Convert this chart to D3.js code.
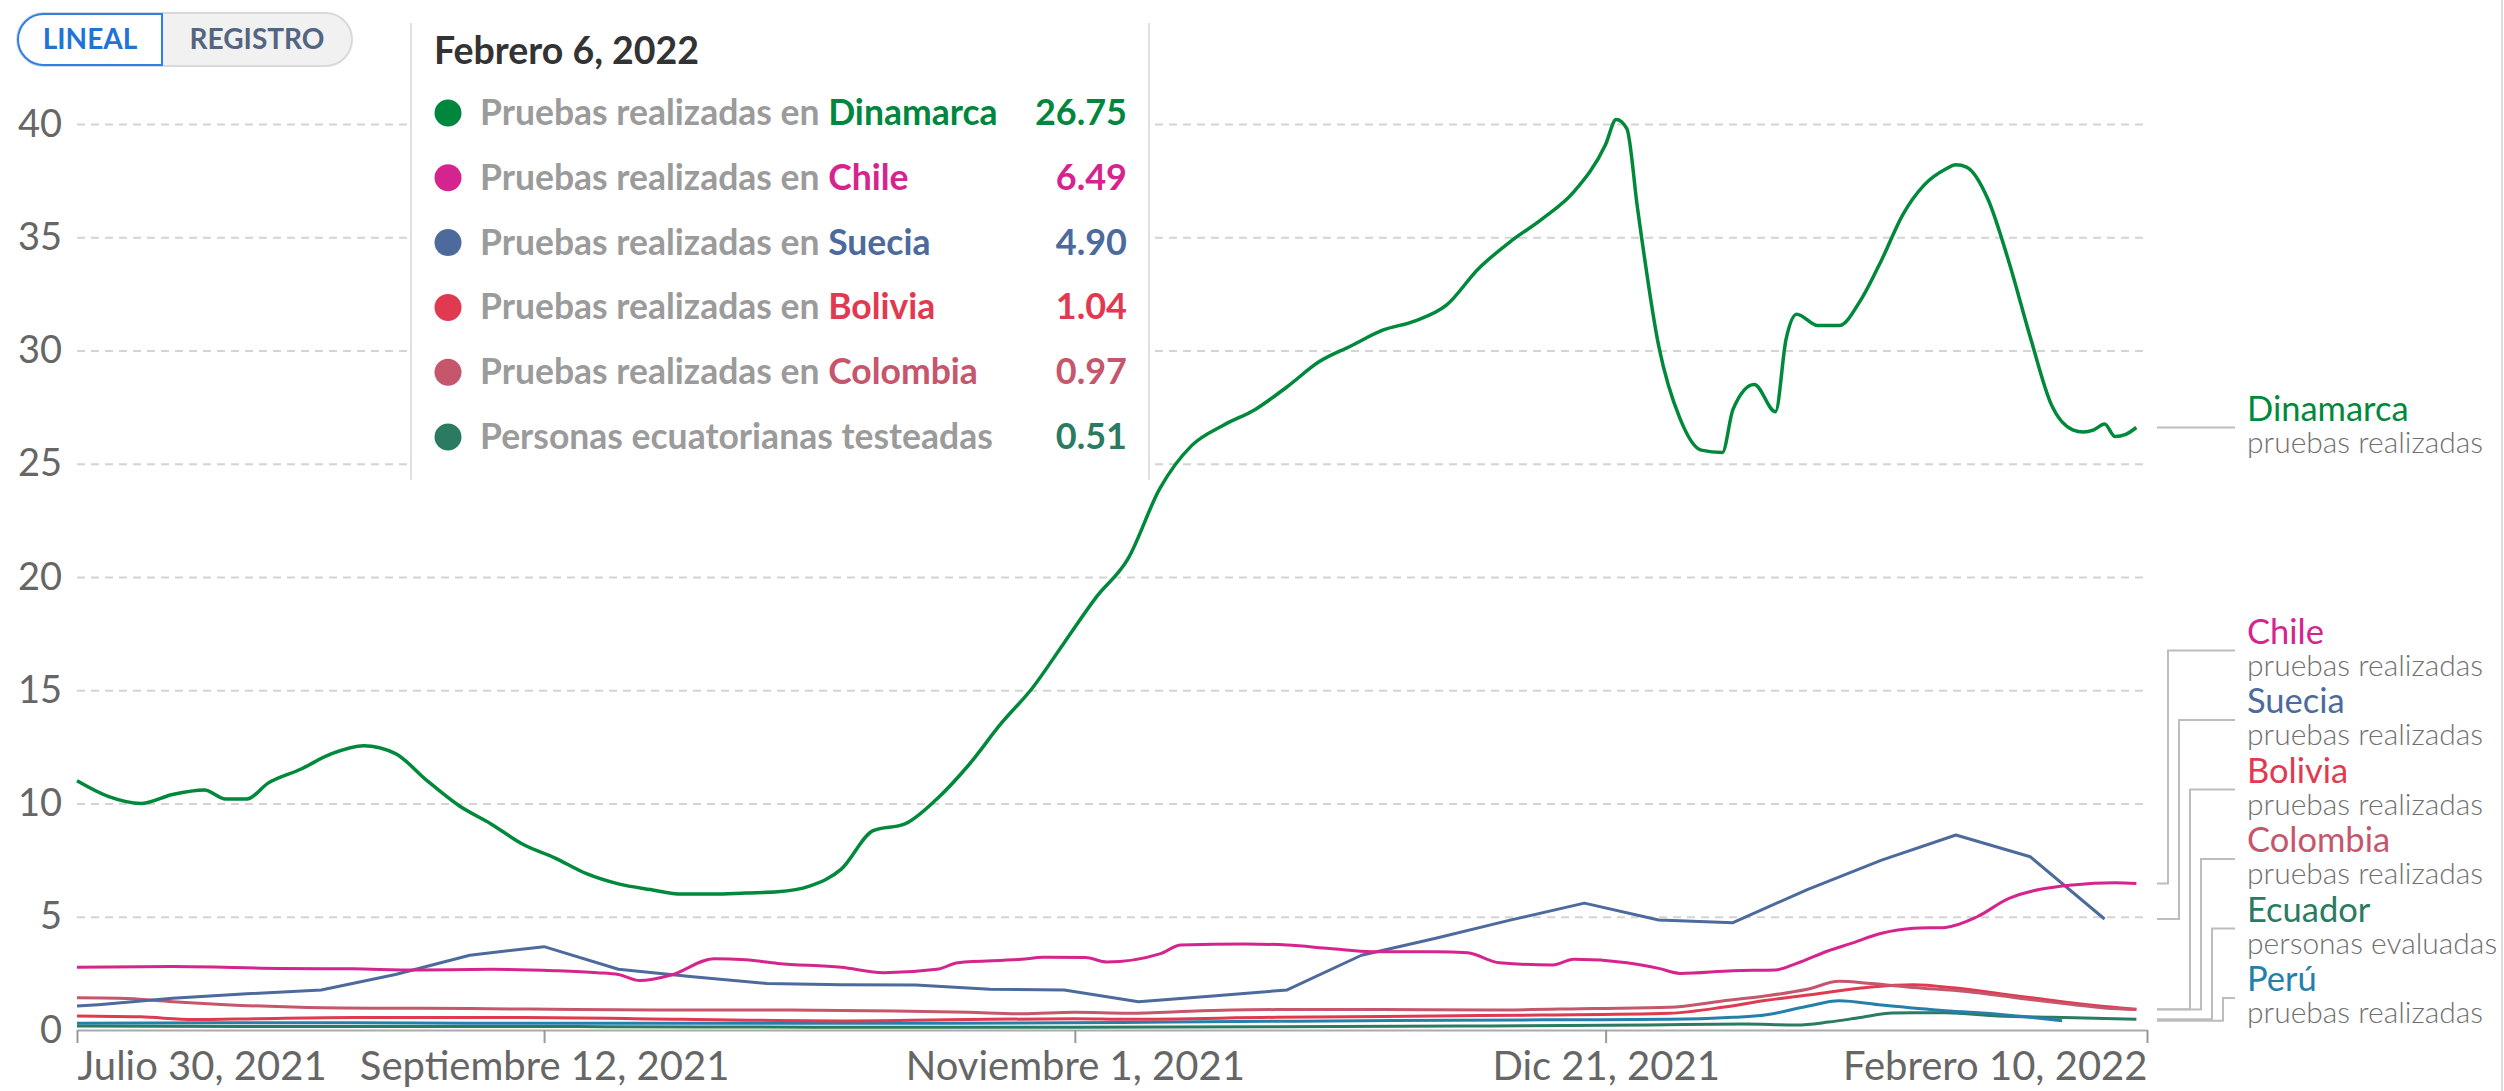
<!DOCTYPE html>
<html>
<head>
<meta charset="utf-8">
<script src="https://cdnjs.cloudflare.com/ajax/libs/d3/7.8.5/d3.min.js"></script>
<style>
  body { margin: 0; background: #fff; }
  svg { display: block; font-family: Lato, "Open Sans", sans-serif; }
</style>
</head>
<body>
<div id="container"></div>
<script>
let w = 2504;
let h = 1091;

// data (tests per 1000 people, 7-day average)
let dinamarca = [
  ["2021-07-30", 11.0], ["2021-08-02", 10.3], ["2021-08-05", 10.0], ["2021-08-08", 10.4],
  ["2021-08-11", 10.6], ["2021-08-13", 10.2], ["2021-08-15", 10.2], ["2021-08-17", 10.9],
  ["2021-08-20", 11.5], ["2021-08-23", 12.2], ["2021-08-26", 12.55], ["2021-08-29", 12.2],
  ["2021-09-01", 11.0], ["2021-09-04", 9.9], ["2021-09-07", 9.1], ["2021-09-10", 8.2],
  ["2021-09-13", 7.6], ["2021-09-16", 6.9], ["2021-09-19", 6.45], ["2021-09-22", 6.2],
  ["2021-09-25", 6.0], ["2021-09-28", 6.0], ["2021-10-01", 6.05], ["2021-10-04", 6.1],
  ["2021-10-07", 6.35], ["2021-10-10", 7.1], ["2021-10-13", 8.8], ["2021-10-16", 9.1],
  ["2021-10-19", 10.2], ["2021-10-22", 11.7], ["2021-10-25", 13.5], ["2021-10-28", 15.1],
  ["2021-10-31", 17.1], ["2021-11-03", 19.1], ["2021-11-06", 20.8], ["2021-11-09", 23.9],
  ["2021-11-12", 25.8], ["2021-11-15", 26.7], ["2021-11-18", 27.4], ["2021-11-21", 28.4],
  ["2021-11-24", 29.5], ["2021-11-27", 30.2], ["2021-11-30", 30.9], ["2021-12-03", 31.3],
  ["2021-12-06", 32.0], ["2021-12-09", 33.6], ["2021-12-12", 34.8], ["2021-12-15", 35.8],
  ["2021-12-18", 37.0], ["2021-12-21", 39.1], ["2021-12-22", 40.2], ["2021-12-23", 39.8],
  ["2021-12-24", 36.3], ["2021-12-26", 30.2], ["2021-12-28", 27.0], ["2021-12-30", 25.6],
  ["2022-01-01", 25.5], ["2022-01-02", 27.4], ["2022-01-04", 28.5], ["2022-01-06", 27.3],
  ["2022-01-07", 30.5], ["2022-01-08", 31.6], ["2022-01-10", 31.1], ["2022-01-12", 31.1],
  ["2022-01-14", 32.2], ["2022-01-16", 34.0], ["2022-01-18", 36.0], ["2022-01-20", 37.3],
  ["2022-01-22", 38.0], ["2022-01-23", 38.2], ["2022-01-24", 38.1], ["2022-01-26", 36.7],
  ["2022-01-28", 33.9], ["2022-01-30", 30.6], ["2022-02-01", 27.6], ["2022-02-03", 26.5],
  ["2022-02-04", 26.4], ["2022-02-05", 26.5], ["2022-02-06", 26.75], ["2022-02-07", 26.2],
  ["2022-02-08", 26.3], ["2022-02-09", 26.6]
];

let chile = [
  ["2021-07-30", 2.77], ["2021-08-08", 2.8], ["2021-08-18", 2.72], ["2021-08-25", 2.7],
  ["2021-08-31", 2.65], ["2021-09-07", 2.68], ["2021-09-13", 2.62], ["2021-09-17", 2.53],
  ["2021-09-19", 2.45], ["2021-09-21", 2.18], ["2021-09-24", 2.43], ["2021-09-28", 3.15],
  ["2021-10-01", 3.1], ["2021-10-04", 2.94], ["2021-10-10", 2.77], ["2021-10-14", 2.53],
  ["2021-10-19", 2.68], ["2021-10-21", 2.97], ["2021-10-27", 3.12], ["2021-10-29", 3.21],
  ["2021-11-02", 3.2], ["2021-11-04", 3.0], ["2021-11-09", 3.36], ["2021-11-11", 3.75],
  ["2021-11-17", 3.8], ["2021-11-21", 3.75], ["2021-11-25", 3.6], ["2021-11-29", 3.46],
  ["2021-12-05", 3.46], ["2021-12-08", 3.41], ["2021-12-11", 2.97], ["2021-12-16", 2.87],
  ["2021-12-18", 3.12], ["2021-12-23", 2.97], ["2021-12-26", 2.72], ["2021-12-28", 2.5],
  ["2022-01-02", 2.62], ["2022-01-06", 2.65], ["2022-01-08", 2.94], ["2022-01-11", 3.5],
  ["2022-01-13", 3.8], ["2022-01-16", 4.27], ["2022-01-19", 4.49], ["2022-01-22", 4.53],
  ["2022-01-25", 5.0], ["2022-01-28", 5.81], ["2022-02-03", 6.4], ["2022-02-07", 6.5],
  ["2022-02-09", 6.47]
];

// weekly values, drawn with straight segments
let suecia = [
  ["2021-07-30", 1.06], ["2021-08-01", 1.12], ["2021-08-08", 1.4], ["2021-08-15", 1.6],
  ["2021-08-22", 1.77], ["2021-08-29", 2.45], ["2021-09-05", 3.3], ["2021-09-12", 3.68],
  ["2021-09-19", 2.68], ["2021-09-26", 2.35], ["2021-10-03", 2.05], ["2021-10-10", 2.0],
  ["2021-10-17", 1.99], ["2021-10-24", 1.8], ["2021-10-31", 1.77], ["2021-11-07", 1.25],
  ["2021-11-14", 1.5], ["2021-11-21", 1.77], ["2021-11-28", 3.3], ["2021-12-05", 4.05],
  ["2021-12-12", 4.85], ["2021-12-19", 5.6], ["2021-12-26", 4.86], ["2022-01-02", 4.74],
  ["2022-01-09", 6.2], ["2022-01-16", 7.5], ["2022-01-23", 8.61], ["2022-01-30", 7.65],
  ["2022-02-06", 4.9]
];

let bolivia = [
  ["2021-07-30", 0.62], ["2021-08-05", 0.58], ["2021-08-10", 0.46], ["2021-08-16", 0.5],
  ["2021-08-25", 0.55], ["2021-09-10", 0.55], ["2021-09-25", 0.47], ["2021-10-10", 0.4],
  ["2021-10-20", 0.45], ["2021-11-01", 0.5], ["2021-11-06", 0.47], ["2021-11-20", 0.56],
  ["2021-12-05", 0.62], ["2021-12-15", 0.66], ["2021-12-27", 0.74], ["2022-01-01", 1.0],
  ["2022-01-05", 1.3], ["2022-01-10", 1.6], ["2022-01-15", 1.9], ["2022-01-19", 2.0],
  ["2022-01-23", 1.85], ["2022-01-28", 1.55], ["2022-02-02", 1.25], ["2022-02-06", 1.04],
  ["2022-02-09", 0.92]
];

let colombia = [
  ["2021-07-30", 1.42], ["2021-08-03", 1.4], ["2021-08-08", 1.25], ["2021-08-13", 1.12],
  ["2021-08-20", 1.0], ["2021-08-27", 0.96], ["2021-09-05", 0.95], ["2021-09-15", 0.9],
  ["2021-09-25", 0.88], ["2021-10-05", 0.88], ["2021-10-15", 0.84], ["2021-10-22", 0.78],
  ["2021-10-27", 0.72], ["2021-11-01", 0.78], ["2021-11-06", 0.74], ["2021-11-13", 0.85],
  ["2021-11-20", 0.9], ["2021-11-30", 0.9], ["2021-12-10", 0.88], ["2021-12-20", 0.95],
  ["2021-12-27", 1.0], ["2022-01-01", 1.28], ["2022-01-05", 1.5], ["2022-01-09", 1.8],
  ["2022-01-12", 2.15], ["2022-01-15", 2.05], ["2022-01-19", 1.88], ["2022-01-24", 1.7],
  ["2022-01-29", 1.4], ["2022-02-03", 1.12], ["2022-02-06", 0.97], ["2022-02-09", 0.9]
];

let ecuador = [
  ["2021-07-30", 0.18], ["2021-08-20", 0.15], ["2021-09-15", 0.15], ["2021-10-10", 0.12],
  ["2021-11-01", 0.12], ["2021-11-20", 0.14], ["2021-12-10", 0.18], ["2021-12-25", 0.22],
  ["2022-01-03", 0.26], ["2022-01-08", 0.22], ["2022-01-11", 0.35], ["2022-01-14", 0.55],
  ["2022-01-17", 0.75], ["2022-01-22", 0.76], ["2022-01-27", 0.62], ["2022-02-01", 0.56],
  ["2022-02-06", 0.51], ["2022-02-09", 0.47]
];

let peru = [
  ["2021-07-30", 0.3], ["2021-08-20", 0.32], ["2021-09-10", 0.3], ["2021-10-01", 0.3],
  ["2021-10-20", 0.3], ["2021-11-10", 0.35], ["2021-12-01", 0.42], ["2021-12-15", 0.45],
  ["2021-12-27", 0.47], ["2022-01-02", 0.56], ["2022-01-05", 0.66], ["2022-01-09", 1.05],
  ["2022-01-12", 1.29], ["2022-01-16", 1.1], ["2022-01-22", 0.85], ["2022-01-27", 0.7],
  ["2022-02-02", 0.41]
];

let seriesNames = ["Dinamarca", "Chile", "Suecia", "Bolivia", "Colombia", "Ecuador", "Perú"];
let seriesSubtitles = ["pruebas realizadas", "pruebas realizadas", "pruebas realizadas", "pruebas realizadas",
  "pruebas realizadas", "personas evaluadas", "pruebas realizadas"];
let seriesColors = ["#00893b", "#d6248f", "#4d6a9d", "#e03a51", "#c6566c", "#2b7b63", "#2480ab"];
let seriesData = [dinamarca, chile, suecia, bolivia, colombia, ecuador, peru];

let xTickDates = ["2021-07-30", "2021-09-12", "2021-11-01", "2021-12-21", "2022-02-10"];
let xTickLabels = ["Julio 30, 2021", "Septiembre 12, 2021", "Noviembre 1, 2021", "Dic 21, 2021", "Febrero 10, 2022"];
let yTicks = [0, 5, 10, 15, 20, 25, 30, 35, 40];

// tooltip content
let tipTitle = "Febrero 6, 2022";
let tipLabels = ["Pruebas realizadas en ", "Pruebas realizadas en ", "Pruebas realizadas en ",
  "Pruebas realizadas en ", "Pruebas realizadas en ", "Personas ecuatorianas testeadas"];
let tipNames = ["Dinamarca", "Chile", "Suecia", "Bolivia", "Colombia", ""];
let tipValues = ["26.75", "6.49", "4.90", "1.04", "0.97", "0.51"];
let tipColors = ["#00873d", "#d6248f", "#4d6a9d", "#e03a51", "#c6566c", "#2b7b63"];

let parseDate = d3.timeParse("%Y-%m-%d");

let plotLeft = 77, plotRight = 2147, plotTop = 124, plotBottom = 1030;

let viz = d3.select("#container")
  .append("svg")
    .attr("width", w)
    .attr("height", h)
;

viz.append("rect").attr("width", w).attr("height", h).attr("fill", "#fff");

let xScale = d3.scaleTime()
  .domain([parseDate(xTickDates[0]), parseDate(xTickDates[xTickDates.length - 1])])
  .range([plotLeft, plotRight]);
let yScale = d3.scaleLinear().domain([0, 40]).range([plotBottom, plotTop]);

// y axis with dashed gridlines
let yAxisGroup = viz.append("g").attr("class", "yaxis")
  .attr("transform", "translate(" + plotLeft + ", 0)");
yAxisGroup.call(d3.axisLeft(yScale).tickValues(yTicks).tickSize(-(plotRight - plotLeft)).tickPadding(15));
yAxisGroup.select(".domain").remove();
yAxisGroup.selectAll(".tick line")
  .attr("stroke", "#d4d4d4")
  .attr("stroke-width", 2)
  .attr("stroke-dasharray", "8,6")
  .attr("opacity", function(d){ return d === 0 ? 0 : 1; });
yAxisGroup.selectAll(".tick text")
  .attr("fill", "#666")
  .attr("font-size", 38)
  .attr("font-family", "Lato");

// x axis
let xAxisGroup = viz.append("g").attr("class", "xaxis")
  .attr("transform", "translate(0, " + plotBottom + ")");
xAxisGroup.call(d3.axisBottom(xScale)
  .tickValues(xTickDates.map(parseDate))
  .tickFormat(function(d, i){ return xTickLabels[i]; })
  .tickSize(13)
  .tickSizeOuter(0)
  .tickPadding(9));
xAxisGroup.select(".domain").attr("stroke", "#aaa").attr("stroke-width", 2);
xAxisGroup.selectAll(".tick line").attr("stroke", "#999").attr("stroke-width", 2);
xAxisGroup.selectAll(".tick text")
  .attr("fill", "#666")
  .attr("font-size", 40)
  .attr("font-family", "Lato")
  .attr("text-anchor", function(d, i){
    if (i === 0) return "start";
    if (i === xTickDates.length - 1) return "end";
    return "middle";
  });

// lines
let lineGroup = viz.append("g").attr("class", "lines");
let drawOrder = [5, 6, 3, 4, 2, 1, 0];
drawOrder.forEach(function(k){
  let line = d3.line()
    .x(function(d){ return xScale(parseDate(d[0])); })
    .y(function(d){ return yScale(d[1]); })
    .curve(k === 2 ? d3.curveLinear : d3.curveMonotoneX);
  lineGroup.append("path")
    .datum(seriesData[k])
    .attr("d", line)
    .attr("fill", "none")
    .attr("stroke", seriesColors[k])
    .attr("stroke-width", k === 0 ? 3.5 : 3)
    .attr("stroke-linejoin", "round");
});

// end labels with connectors
let labelItems = seriesNames.map(function(name, k){
  let last = seriesData[k][seriesData[k].length - 1];
  return { name: name, sub: seriesSubtitles[k], color: seriesColors[k], target: yScale(last[1]) };
});
labelItems.sort(function(a, b){ return a.target - b.target; });
let step = 69.5;
let limit = plotBottom - 32;
for (let i = labelItems.length - 1; i >= 0; i--) {
  labelItems[i].pos = Math.min(labelItems[i].target, limit);
  limit = labelItems[i].pos - step;
}

let labelGroup = viz.append("g").attr("class", "labels");
labelItems.forEach(function(d, i){
  let startX = plotRight + 10;
  let elbowX = startX + 11 * i;
  let endX = 2235;
  labelGroup.append("path")
    .attr("d", "M" + startX + "," + d.target + "H" + elbowX + "V" + d.pos + "H" + endX)
    .attr("fill", "none")
    .attr("stroke", "#bdbdbd")
    .attr("stroke-width", 2);
  labelGroup.append("text")
    .attr("x", 2247)
    .attr("y", d.pos - 7)
    .attr("fill", d.color)
    .attr("font-size", 34.5)
    .text(d.name);
  labelGroup.append("text")
    .attr("x", 2247)
    .attr("y", d.pos + 25)
    .attr("fill", "#707070")
    .attr("font-size", 30)
    .attr("font-weight", 300)
    .text(d.sub);
});

// tooltip box
let tip = viz.append("g").attr("class", "tooltip");
tip.append("rect")
  .attr("x", 411).attr("y", 23)
  .attr("width", 738).attr("height", 457)
  .attr("fill", "#fff").attr("fill-opacity", 0.97);
tip.selectAll(".edge")
  .data([411, 1149])
  .enter()
  .append("line")
    .attr("class", "edge")
    .attr("x1", function(d){ return d; }).attr("x2", function(d){ return d; })
    .attr("y1", 23).attr("y2", 480)
    .attr("stroke", "#e0e0e0").attr("stroke-width", 2);
tip.append("text")
  .attr("x", 434).attr("y", 64)
  .attr("fill", "#333")
  .attr("font-size", 37.5)
  .attr("font-weight", 700)
  .text(tipTitle);
tipLabels.forEach(function(label, i){
  let cy = 113 + i * 64.8;
  tip.append("circle").attr("cx", 448).attr("cy", cy).attr("r", 13.5).attr("fill", tipColors[i]);
  let t = tip.append("text")
    .attr("x", 480).attr("y", cy + 12)
    .attr("font-size", 35.5);
  t.append("tspan").attr("fill", "#9b9b9b").attr("font-weight", 700).text(label);
  t.append("tspan").attr("fill", tipColors[i]).attr("font-weight", 700).text(tipNames[i]);
  tip.append("text")
    .attr("x", 1127).attr("y", cy + 12)
    .attr("text-anchor", "end")
    .attr("fill", tipColors[i])
    .attr("font-size", 36)
    .attr("font-weight", 700)
    .text(tipValues[i]);
});

// scale toggle
let toggle = viz.append("g").attr("class", "toggle");
toggle.append("rect")
  .attr("x", 17).attr("y", 13).attr("width", 335).attr("height", 53)
  .attr("rx", 26.5)
  .attr("fill", "#f1f1f2").attr("stroke", "#d9d9d9").attr("stroke-width", 2);
toggle.append("path")
  .attr("d", "M162,14 H43.5 A25.5,25.5 0 0 0 43.5,65 H162 Z")
  .attr("fill", "#fff").attr("stroke", "#2f80e3").attr("stroke-width", 2);
toggle.append("text")
  .attr("x", 90).attr("y", 49).attr("text-anchor", "middle")
  .attr("fill", "#1f74d8").attr("font-size", 28).attr("font-weight", 700)
  .text("LINEAL");
toggle.append("text")
  .attr("x", 257).attr("y", 49).attr("text-anchor", "middle")
  .attr("fill", "#526682").attr("font-size", 28).attr("font-weight", 700)
  .text("REGISTRO");

// frame edge on the right
viz.append("line")
  .attr("x1", 2502).attr("x2", 2502).attr("y1", 0).attr("y2", h)
  .attr("stroke", "#dcdcdc").attr("stroke-width", 2);
</script>
</body>
</html>
